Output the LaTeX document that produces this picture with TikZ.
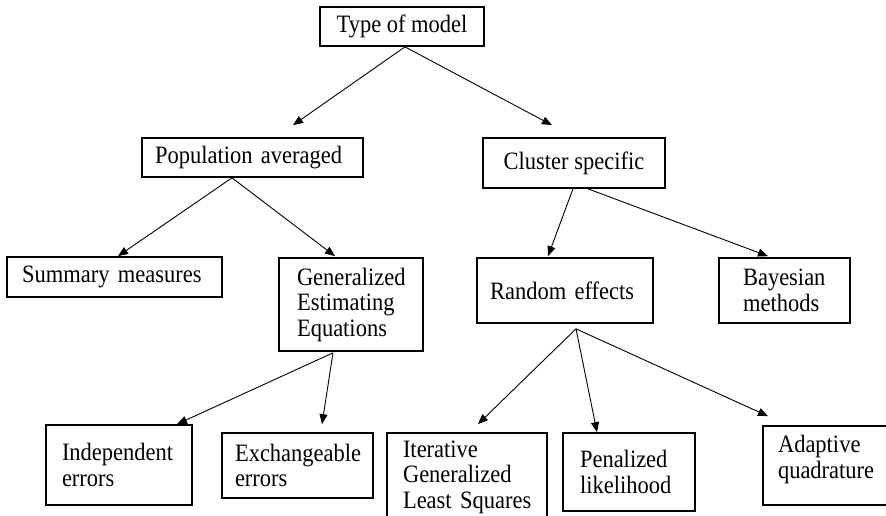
\documentclass[tikz,border=0pt]{standalone}
\usepackage{fontspec}
\setmainfont[FakeStretch=0.9]{Liberation Serif}
\usetikzlibrary{calc,arrows.meta}
\begin{document}
\begin{tikzpicture}[x=1pt,y=-1pt,
  box/.style={draw=black,line width=1.7pt,rectangle,inner ysep=0pt,
    font=\fontsize{25}{25.5}\selectfont,align=left},
  arr/.style={draw=black,line width=0.9pt,-{Triangle[length=10pt,width=8pt]}}]
\useasboundingbox (0,0) rectangle (886,516);
% boxes
\node[box,align=center,minimum width=164pt,minimum height=39pt,inner xsep=0pt] (tm) at (402,26.5) {Type of model};
\node[box,minimum width=221pt,minimum height=39pt,inner xsep=13pt,text width=195pt] (pa) at (252.5,157.5) {\mbox{Population averaged}};
\node[box,align=center,minimum width=182pt,minimum height=50pt,inner xsep=0pt] (cs) at (574,163) {Cluster specific};
\node[box,minimum width=215pt,minimum height=40pt,inner xsep=15pt,text width=185pt] (sm) at (114.5,277) {\mbox{Summary measures}};
\node[box,minimum width=144pt,minimum height=93pt,inner xsep=18pt,text width=108pt] (gee) at (351,304.5) {\mbox{Generalized}\\\mbox{Estimating}\\\mbox{Equations}};
\node[box,minimum width=176pt,minimum height=65pt,inner xsep=13pt,text width=150pt] (re) at (565,290.5) {\mbox{Random effects}};
\node[box,minimum width=131pt,minimum height=65pt,inner xsep=24pt,text width=83pt] (bm) at (784.5,290.5) {\mbox{Bayesian}\\\mbox{methods}};
\node[box,minimum width=146pt,minimum height=80pt,inner xsep=16pt,text width=114pt] (ie) at (119,465) {\mbox{Independent}\\\mbox{errors}};
\node[box,minimum width=151pt,minimum height=65pt,inner xsep=13pt,text width=125pt] (ee) at (297.5,465.5) {\mbox{Exchangeable}\\\mbox{errors}};
\node[box,minimum width=160pt,minimum height=88pt,inner xsep=16pt,text width=128pt] (igls) at (467,477) {\mbox{Iterative}\\\mbox{Generalized}\\\mbox{Least Squares}};
\node[box,minimum width=132pt,minimum height=78pt,inner xsep=17pt,text width=98pt] (pl) at (629,472) {\mbox{Penalized}\\\mbox{likelihood}};
\node[box,minimum width=124pt,minimum height=79pt,inner xsep=15pt,text width=94pt] (aq) at (825,465.5) {\mbox{Adaptive}\\\mbox{quadrature}\rule[-17pt]{0pt}{0pt}};
% connectors
\draw[arr] ($(tm.south)+(3,0)$) -- ($(pa.north)+(40.5,-12)$);
\draw[arr] ($(tm.south)+(3,0)$) -- ($(cs.north)+(-22,-12)$);
\draw[arr] ($(pa.south)+(-20.5,0)$) -- ($(sm.north)+(3.5,0)$);
\draw[arr] ($(pa.south)+(-20.5,0)$) -- ($(gee.north)+(-16,-1)$);
\draw[arr] ($(cs.south)+(-1,0)$) -- ($(re.north)+(-17,-1)$);
\draw[arr] ($(cs.south)+(14,0)$) -- ($(bm.north)+(-16.5,-1)$);
\draw[arr] ($(gee.south)+(-18,1)$) -- ($(ie.north)+(58,0)$);
\draw[arr] ($(gee.south)+(-18,1)$) -- ($(ee.north)+(24.5,-8)$);
\draw[arr] ($(re.south)+(11,5)$) -- ($(igls.north)+(11,-8)$);
\draw[arr] ($(re.south)+(11,5)$) -- ($(pl.north)+(-32,0)$);
\draw[arr] ($(re.south)+(11,5)$) -- ($(aq.north)+(-57,-9)$);
\end{tikzpicture}
\end{document}
